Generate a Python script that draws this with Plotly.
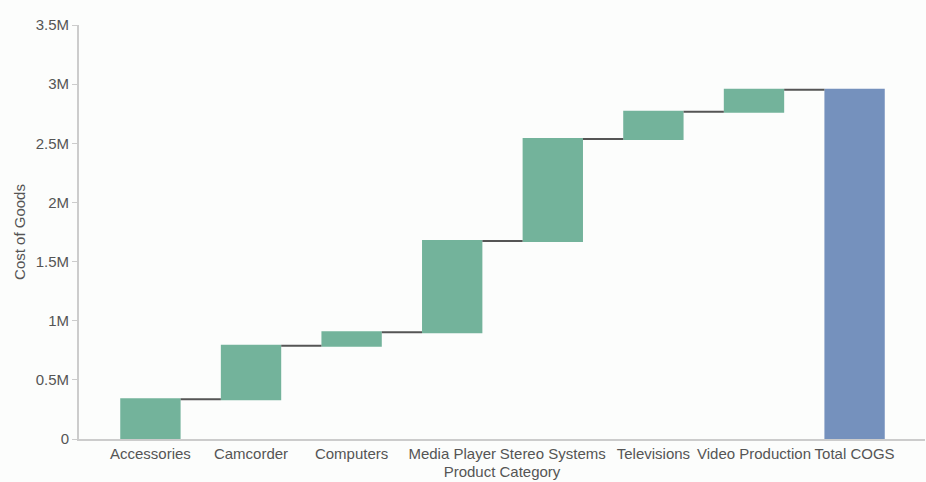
import plotly.graph_objects as go

categories = ["Accessories", "Camcorder", "Computers", "Media Player", "Stereo Systems",
              "Televisions", "Video Production", "Total COGS"]
deltas = [336000, 453000, 113000, 772000, 862000, 231000, 186000, 0]
measures = ["relative"] * 7 + ["total"]
y_tick_vals = [0, 500000, 1000000, 1500000, 2000000, 2500000, 3000000, 3500000]
y_tick_text = ["0", "0.5M", "1M", "1.5M", "2M", "2.5M", "3M", "3.5M"]

fig = go.Figure(go.Waterfall(
    x=categories,
    y=deltas,
    measure=measures,
    width=0.6,
    increasing=dict(marker=dict(color="#73b39b")),
    decreasing=dict(marker=dict(color="#73b39b")),
    totals=dict(marker=dict(color="#7591bd")),
    connector=dict(line=dict(color="#555555", width=2), mode="between"),
    hoverinfo="x+y",
))

font = "Liberation Sans, Arial, sans-serif"
fig.update_layout(
    width=926, height=482,
    margin=dict(l=79, r=1, t=25, b=43, autoexpand=False),
    paper_bgcolor="#fcfdfc", plot_bgcolor="#fcfdfc",
    showlegend=False,
    font=dict(family=font, size=15, color="#555555"),
    xaxis=dict(
        title=dict(text="Product Category", font=dict(size=15, color="#555555"), standoff=5),
        automargin=False,
        range=[-0.71, 7.70],
        showline=True, linecolor="#cccccc", linewidth=2,
        ticks="", showgrid=False, zeroline=False,
        tickfont=dict(size=15, color="#555555"),
    ),
    yaxis=dict(
        title=dict(text="Cost of Goods", font=dict(size=15, color="#555555"), standoff=6),
        automargin=False,
        range=[0, 3500000],
        tickvals=y_tick_vals, ticktext=y_tick_text,
        showline=True, linecolor="#cccccc", linewidth=2,
        ticks="outside", ticklen=5, tickcolor="#cccccc",
        showgrid=False, zeroline=False,
        tickfont=dict(size=15, color="#555555"),
    ),
)

fig.write_html(
    "out.html",
    config={"displayModeBar": False},
    post_script="document.body.style.margin='0';document.body.style.background='#fcfdfc';",
)
